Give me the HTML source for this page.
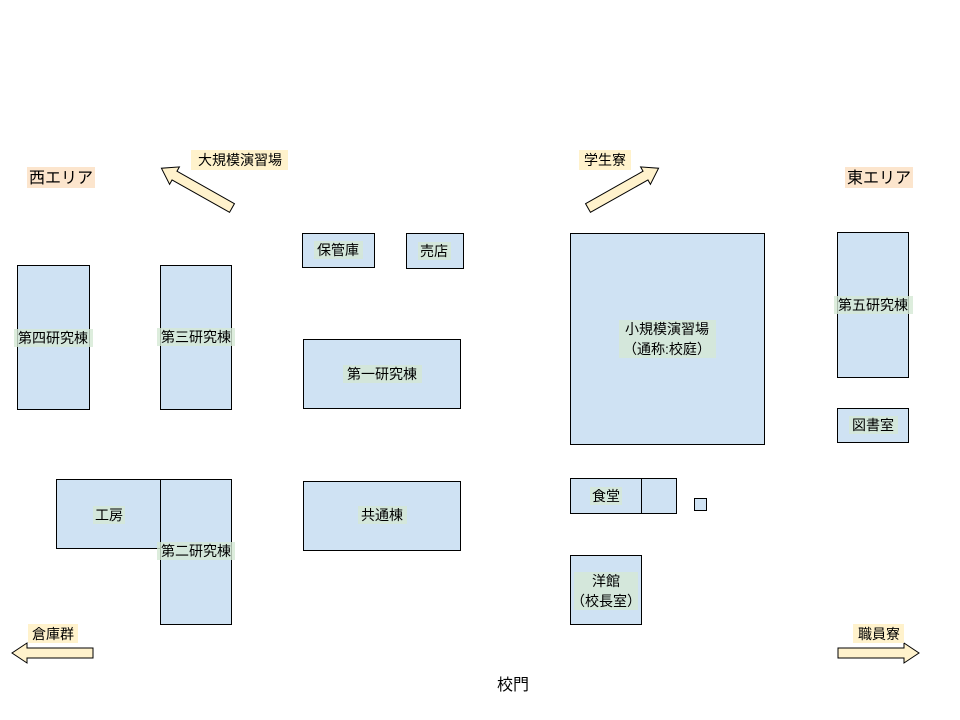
<!DOCTYPE html>
<html><head><meta charset="utf-8"><style>
html,body{margin:0;padding:0;background:#fff}
svg{display:block}
text{font-family:"Liberation Sans","Noto Sans CJK JP",sans-serif;font-size:14px;fill:#000}
</style></head><body>
<svg width="960" height="720" viewBox="0 0 960 720" xmlns="http://www.w3.org/2000/svg">
<g fill="#cfe2f3" stroke="#000" stroke-width="1">
<rect x="17.5" y="265.5" width="72" height="144"/>
<rect x="160.5" y="265.5" width="71" height="144"/>
<rect x="302.5" y="233.5" width="72" height="34"/>
<rect x="406.5" y="233.5" width="57" height="35"/>
<rect x="303.5" y="339.5" width="157" height="69"/>
<rect x="56.5" y="479.5" width="104" height="69"/>
<rect x="160.5" y="479.5" width="71" height="145"/>
<rect x="303.5" y="481.5" width="157" height="69"/>
<rect x="570.5" y="233.5" width="194" height="211"/>
<rect x="837.5" y="232.5" width="71" height="145"/>
<rect x="837.5" y="408.5" width="71" height="34"/>
<rect x="570.5" y="478.5" width="71" height="35"/>
<rect x="641.5" y="478.5" width="35" height="35"/>
<rect x="694.5" y="498.5" width="12" height="12"/>
<rect x="570.5" y="555.5" width="71" height="69"/>
</g>
<g fill="#fff2cc" stroke="#000" stroke-width="1">
<polygon points="0,-5 66,-5 66,-10 81,0 66,10 66,5 0,5" transform="translate(232,208) rotate(-150.6)"/>
<polygon points="0,-5 66,-5 66,-10 81,0 66,10 66,5 0,5" transform="translate(588,208) rotate(-29.4)"/>
<polygon points="0,-5 66,-5 66,-10 81,0 66,10 66,5 0,5" transform="translate(93,653) rotate(180)"/>
<polygon points="0,-5 66,-5 66,-10 81,0 66,10 66,5 0,5" transform="translate(838,653)"/>
</g>
<!-- label backgrounds -->
<g fill="#d5e8d4" opacity="0.8">
<rect x="14" y="329" width="79" height="18"/>
<rect x="157" y="328" width="78" height="18"/>
<rect x="314" y="241" width="49" height="18"/>
<rect x="418" y="242" width="33" height="18"/>
<rect x="343" y="365" width="79" height="18"/>
<rect x="93" y="506" width="32" height="18"/>
<rect x="157" y="542" width="78" height="18"/>
<rect x="358" y="506" width="49" height="18"/>
<rect x="619" y="320" width="97" height="38"/>
<rect x="834" y="296" width="79" height="18"/>
<rect x="849" y="416" width="49" height="18"/>
<rect x="590" y="487" width="32" height="18"/>
<rect x="574" y="572" width="64" height="38"/>
</g>
<g fill="#fce5cd">
<rect x="27" y="167" width="68" height="21"/>
<rect x="845" y="167" width="68" height="21"/>
</g>
<g fill="#fff2cc">
<rect x="191" y="150" width="97" height="20"/>
<rect x="579" y="150" width="52" height="20"/>
<rect x="28" y="624" width="50" height="19"/>
<rect x="853" y="624" width="51" height="19"/>
</g>
<g text-anchor="middle">
<text x="53" y="343">第四研究棟</text>
<text x="196" y="342">第三研究棟</text>
<text x="338" y="255">保管庫</text>
<text x="434" y="256">売店</text>
<text x="382" y="379">第一研究棟</text>
<text x="109" y="520">工房</text>
<text x="196" y="556">第二研究棟</text>
<text x="382" y="520">共通棟</text>
<text x="667" y="334">小規模演習場</text>
<text x="667" y="354">（通称:校庭）</text>
<text x="873" y="310">第五研究棟</text>
<text x="873" y="430">図書室</text>
<text x="606" y="501">食堂</text>
<text x="606" y="586">洋館</text>
<text x="606" y="606">（校長室）</text>
<text x="61" y="183" style="font-size:16px">西エリア</text>
<text x="879" y="183" style="font-size:16px">東エリア</text>
<text x="240" y="165">大規模演習場</text>
<text x="605" y="165">学生寮</text>
<text x="53" y="639">倉庫群</text>
<text x="879" y="639">職員寮</text>
<text x="513" y="690" style="font-size:16px">校門</text>
</g>
</svg>
</body></html>
